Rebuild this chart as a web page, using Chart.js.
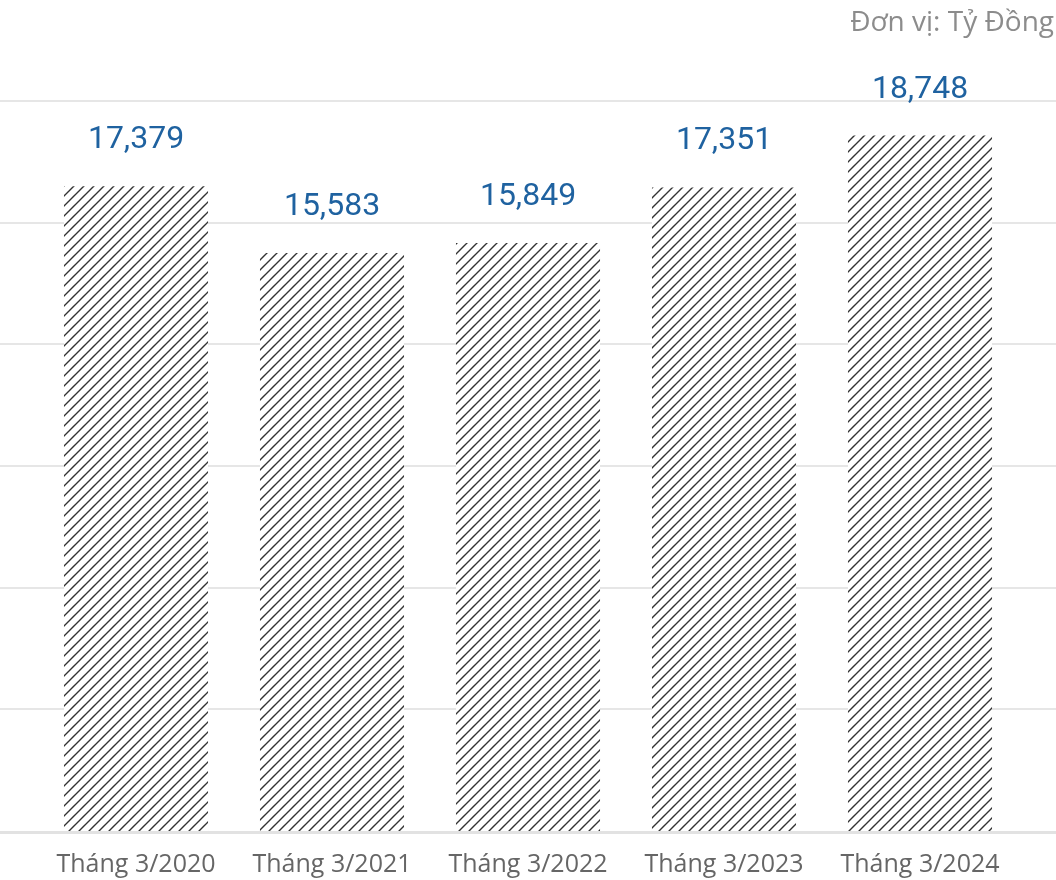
<!DOCTYPE html>
<html>
<head>
<meta charset="utf-8">
<script src="https://cdn.jsdelivr.net/npm/chart.js@4.4.1/dist/chart.umd.min.js"></script>
<style>
  html, body { margin: 0; padding: 0; background: #ffffff; }
  #wrap { width: 1056px; height: 880px; position: relative; }
</style>
</head>
<body>
<div id="wrap"><canvas id="c" width="1056" height="880"></canvas></div>
<script>
const categories = ['Tháng 3/2020', 'Tháng 3/2021', 'Tháng 3/2022', 'Tháng 3/2023', 'Tháng 3/2024'];
const values = [17379, 15583, 15849, 17351, 18748];
const gridTicks = [0, 3280, 6560, 9840, 13120, 16400, 19680];
const unitLabel = 'Đơn vị: Tỷ Đồng';

function makeHatch() {
  const s = 10;
  const p = document.createElement('canvas');
  p.width = s; p.height = s;
  const g = p.getContext('2d');
  g.fillStyle = '#ffffff';
  g.fillRect(0, 0, s, s);
  g.strokeStyle = '#333333';
  g.lineWidth = 1.4;
  g.beginPath();
  g.moveTo(-2, s + 2); g.lineTo(s + 2, -2);
  g.moveTo(-2, 2); g.lineTo(2, -2);
  g.moveTo(s - 2, s + 2); g.lineTo(s + 2, s - 2);
  g.stroke();
  return document.getElementById('c').getContext('2d').createPattern(p, 'repeat');
}

const gridPlugin = {
  id: 'fullGrid',
  beforeDatasetsDraw(chart) {
    const ctx = chart.ctx;
    const y = chart.scales.y;
    ctx.save();
    gridTicks.forEach((v, i) => {
      const py = Math.round(y.getPixelForValue(v));
      if (i === 0) {
        ctx.strokeStyle = '#e2e2e2';
        ctx.lineWidth = 3;
        ctx.beginPath(); ctx.moveTo(0, py + 1.5); ctx.lineTo(chart.width, py + 1.5); ctx.stroke();
      } else {
        ctx.strokeStyle = '#e6e6e6';
        ctx.lineWidth = 2;
        ctx.beginPath(); ctx.moveTo(0, py); ctx.lineTo(chart.width, py); ctx.stroke();
      }
    });
    ctx.restore();
  }
};

const labelPlugin = {
  id: 'valueLabels',
  afterDatasetsDraw(chart) {
    const ctx = chart.ctx;
    const meta = chart.getDatasetMeta(0);
    ctx.save();
    ctx.font = '400 32px Roboto, sans-serif';
    ctx.fillStyle = '#1f62a0';
    ctx.textAlign = 'center';
    ctx.textBaseline = 'alphabetic';
    meta.data.forEach((bar, i) => {
      ctx.fillText(values[i].toLocaleString('en-US'), bar.x, bar.y - 38);
    });
    ctx.font = '28px "Open Sans", sans-serif';
    ctx.fillStyle = '#8c8c8c';
    ctx.textAlign = 'right';
    ctx.fillText(unitLabel, 1054, 31);
    ctx.restore();
  }
};

new Chart(document.getElementById('c'), {
  type: 'bar',
  data: {
    labels: categories,
    datasets: [{
      data: values,
      backgroundColor: makeHatch(),
      borderWidth: 0,
      categoryPercentage: 1,
      barPercentage: 0.735
    }]
  },
  options: {
    responsive: false,
    animation: false,
    layout: { padding: { left: 38, right: 38, top: 101, bottom: 0 } },
    plugins: { legend: { display: false }, tooltip: { enabled: false }, title: { display: false } },
    scales: {
      x: {
        grid: { display: false },
        border: { display: false },
        ticks: { color: '#666666', font: { family: 'Open Sans', size: 25 }, padding: 11, maxRotation: 0 },
        afterFit(scale) { scale.height = 49; }
      },
      y: {
        display: false,
        min: 0,
        max: gridTicks[gridTicks.length - 1],
        afterBuildTicks(scale) { scale.ticks = gridTicks.map(v => ({ value: v })); }
      }
    }
  },
  plugins: [gridPlugin, labelPlugin]
});
</script>
</body>
</html>
